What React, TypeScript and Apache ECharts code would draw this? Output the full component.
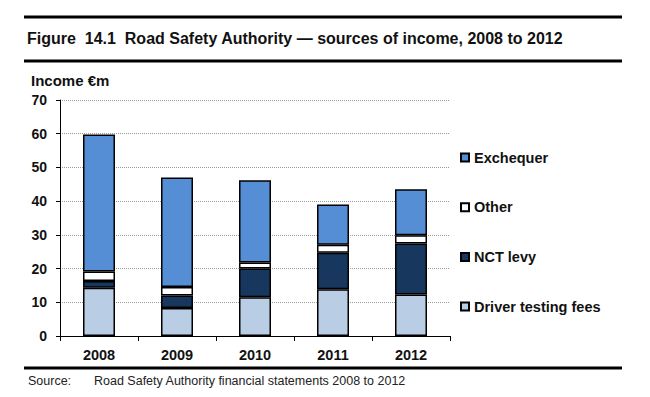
import React, { useEffect, useRef } from "react";
import * as echarts from "echarts";

const years = ["2008", "2009", "2010", "2011", "2012"];
const driverTesting = [14.3, 8.3, 11.5, 13.9, 12.3];
const nctLevy = [2.0, 3.7, 8.5, 10.8, 15.1];
const other = [2.8, 2.5, 1.8, 2.4, 2.5];
const exchequer = [40.7, 32.5, 24.4, 11.9, 13.6];
const legendOrder = ["Exchequer", "Other", "NCT levy", "Driver testing fees"];

const FONT = "'Liberation Sans', Arial, sans-serif";

export default function App() {
  const ref = useRef<HTMLDivElement>(null);
  useEffect(() => {
    if (!ref.current) return;
    const chart = echarts.init(ref.current, undefined, { renderer: "svg" });
    const mk = (name: string, data: number[], color: string) => ({
      name,
      type: "bar",
      stack: "income",
      data,
      barWidth: 32,
      itemStyle: { color, borderColor: "#000", borderWidth: 1.5 },
      emphasis: { disabled: true },
    });
    chart.setOption({
      animation: false,
      textStyle: { fontFamily: FONT },
      title: {
        text: "Figure  14.1  Road Safety Authority \u2014 sources of income, 2008 to 2012",
        left: 27,
        top: 30,
        padding: 0,
        textStyle: { fontFamily: FONT, fontSize: 16, fontWeight: "bold", color: "#111" },
      },
      grid: { left: 60, top: 100, width: 390, height: 236, containLabel: false },
      legend: {
        orient: "vertical",
        left: 460,
        top: 150,
        padding: 0,
        itemWidth: 8,
        itemHeight: 8,
        itemGap: 34.7,
        icon: "rect",
        data: legendOrder,
        selectedMode: false,
        textStyle: { fontFamily: FONT, fontSize: 14.5, fontWeight: "bold", color: "#111", lineHeight: 14 },
      },
      xAxis: {
        type: "category",
        data: years,
        axisLine: { lineStyle: { color: "#000", width: 1 } },
        axisTick: { show: true, alignWithLabel: false, length: 5, lineStyle: { color: "#000" } },
        axisLabel: { margin: 11, fontFamily: FONT, fontSize: 14.5, fontWeight: "bold", color: "#111" },
      },
      yAxis: {
        type: "value",
        min: 0,
        max: 70,
        interval: 10,
        axisLine: { show: true, lineStyle: { color: "#000", width: 1 } },
        axisTick: { show: true, length: 4, lineStyle: { color: "#000" } },
        axisLabel: { margin: 13, fontFamily: FONT, fontSize: 14, fontWeight: "bold", color: "#111" },
        splitLine: { show: true, lineStyle: { color: "#999", type: "dotted", width: 1 } },
      },
      series: [
        mk("Driver testing fees", driverTesting, "#b9cde5"),
        mk("NCT levy", nctLevy, "#17375e"),
        mk("Other", other, "#ffffff"),
        mk("Exchequer", exchequer, "#558ed5"),
      ],
      graphic: [
        { type: "line", shape: { x1: 24, y1: 17, x2: 622, y2: 17 }, style: { stroke: "#000", lineWidth: 3 } },
        { type: "line", shape: { x1: 24, y1: 61, x2: 622, y2: 61 }, style: { stroke: "#000", lineWidth: 3 } },
        { type: "line", shape: { x1: 24, y1: 368, x2: 622, y2: 368 }, style: { stroke: "#000", lineWidth: 3 } },
        {
          type: "text",
          left: 31,
          top: 73,
          style: { text: "Income \u20acm", font: `bold 15px ${FONT}`, fill: "#111" },
        },
        {
          type: "text",
          left: 28,
          top: 374,
          style: { text: "Source:", font: `12.5px ${FONT}`, fill: "#222" },
        },
        {
          type: "text",
          left: 94,
          top: 374,
          style: { text: "Road Safety Authority financial statements 2008 to 2012", font: `12.5px ${FONT}`, fill: "#222" },
        },
      ],
    });
    return () => chart.dispose();
  }, []);
  return <div ref={ref} style={{ width: 650, height: 397, position: "absolute", left: 0, top: 0 }} />;
}
